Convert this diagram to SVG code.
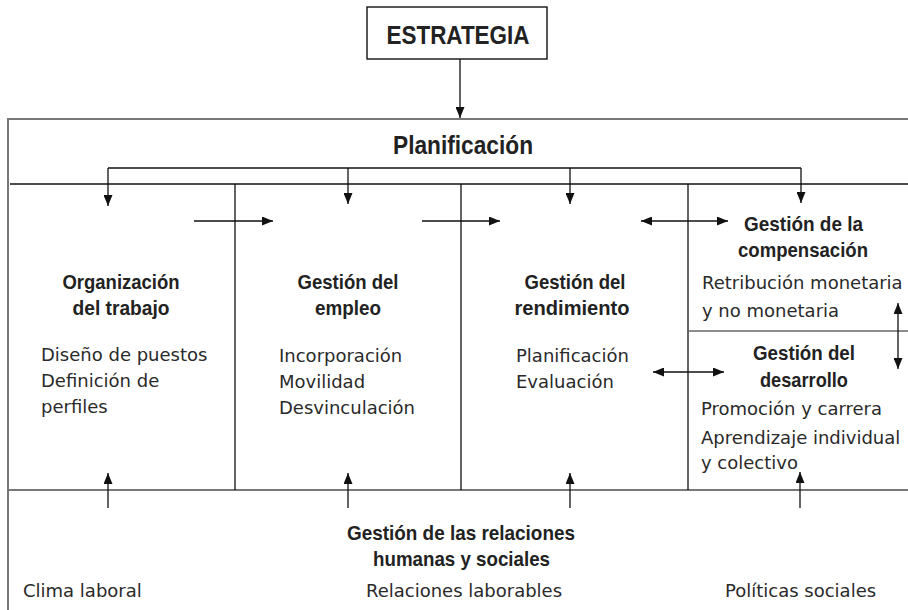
<svg xmlns="http://www.w3.org/2000/svg" width="908" height="610" viewBox="0 0 908 610">
<style>
.frame{stroke:#777;stroke-width:2;fill:none}
.ln{stroke:#111;stroke-width:1.3;fill:none}
.gl{stroke:#666;stroke-width:1.6;fill:none}
.h{font-family:"Liberation Sans",Arial,sans-serif;font-weight:bold;font-size:21px;fill:#222;text-anchor:middle}
.b{font-family:"DejaVu Sans",sans-serif;font-size:18px;fill:#2a2a2a}
.c{stroke:#111;stroke-width:1.3;fill:none}
.ar{marker-end:url(#ah)}
.dar{marker-end:url(#ah);marker-start:url(#ah)}
</style>
<defs>
<marker id="ah" markerUnits="userSpaceOnUse" markerWidth="11" markerHeight="9" refX="11" refY="4.5" orient="auto-start-reverse" viewBox="0 0 11 9">
<path d="M0,0 L11,4.5 L0,9 z" fill="#111"/>
</marker>
</defs>
<rect width="908" height="610" fill="#fff"/>

<g id="frame">
<path class="frame" d="M908,119 H8 V610"/>
<path class="ln" d="M10,184 H908"/>
<path class="frame" d="M8,490 H908"/>
<path class="ln" d="M235,184 V490 M461,184 V490 M688,184 V490"/>
<path class="gl" d="M688,331 H908"/>
</g>

<g id="estrategia">
<rect x="367" y="7" width="180" height="52" fill="#fff" stroke="#111" stroke-width="1.4"/>
<text class="h" x="458" y="44" font-size="26" style="font-size:26px" textLength="143" lengthAdjust="spacingAndGlyphs">ESTRATEGIA</text>
</g>

<g id="planificacion">
<text class="h" x="463" y="154" style="font-size:25px" textLength="140" lengthAdjust="spacingAndGlyphs">Planificación</text>
</g>

<g id="organizacion">
<text class="h" x="121" y="289" textLength="117" lengthAdjust="spacingAndGlyphs">Organización</text>
<text class="h" x="121" y="315" textLength="97" lengthAdjust="spacingAndGlyphs">del trabajo</text>
<text class="b" x="41" y="361">Diseño de puestos</text>
<text class="b" x="41" y="387">Definición de</text>
<text class="b" x="41" y="413">perfiles</text>
</g>

<g id="empleo">
<text class="h" x="348" y="289" textLength="101" lengthAdjust="spacingAndGlyphs">Gestión del</text>
<text class="h" x="348" y="315" textLength="66" lengthAdjust="spacingAndGlyphs">empleo</text>
<text class="b" x="279" y="362">Incorporación</text>
<text class="b" x="279" y="388">Movilidad</text>
<text class="b" x="279" y="414">Desvinculación</text>
</g>

<g id="rendimiento">
<text class="h" x="575" y="289" textLength="101" lengthAdjust="spacingAndGlyphs">Gestión del</text>
<text class="h" x="572" y="315" textLength="115" lengthAdjust="spacingAndGlyphs">rendimiento</text>
<text class="b" x="516" y="362">Planificación</text>
<text class="b" x="516" y="388">Evaluación</text>
</g>

<g id="compensacion">
<text class="h" x="803.5" y="231" textLength="119" lengthAdjust="spacingAndGlyphs">Gestión de la</text>
<text class="h" x="803" y="257" textLength="130" lengthAdjust="spacingAndGlyphs">compensación</text>
<text class="b" x="702" y="289">Retribución monetaria</text>
<text class="b" x="702" y="317">y no monetaria</text>
</g>

<g id="desarrollo">
<text class="h" x="804" y="360" textLength="102" lengthAdjust="spacingAndGlyphs">Gestión del</text>
<text class="h" x="804" y="387" textLength="88" lengthAdjust="spacingAndGlyphs">desarrollo</text>
<text class="b" x="701" y="415">Promoción y carrera</text>
<text class="b" x="701" y="444">Aprendizaje individual</text>
<text class="b" x="701" y="469">y colectivo</text>
</g>

<g id="relaciones">
<text class="h" x="461" y="540" textLength="228" lengthAdjust="spacingAndGlyphs">Gestión de las relaciones</text>
<text class="h" x="461.5" y="566" textLength="177" lengthAdjust="spacingAndGlyphs">humanas y sociales</text>
<text class="b" x="23" y="597">Clima laboral</text>
<text class="b" x="366" y="597">Relaciones laborables</text>
<text class="b" x="725" y="597">Políticas sociales</text>
</g>

<g id="connectors">
<path class="c ar" d="M460,59 V118"/>
<path class="c" d="M108,168 H801"/>
<path class="c ar" d="M108,168 V206"/>
<path class="c ar" d="M348,168 V204"/>
<path class="c ar" d="M570,168 V204"/>
<path class="c ar" d="M801,168 V203"/>
<path class="c ar" d="M194,221 H273"/>
<path class="c ar" d="M422,221 H500"/>
<path class="c dar" d="M641,221 H728"/>
<path class="c dar" d="M653,372 H724"/>
<path class="c dar" d="M898,303 V369"/>
<path class="c ar" d="M108,508 V473"/>
<path class="c ar" d="M348,508 V473"/>
<path class="c ar" d="M570,508 V473"/>
<path class="c ar" d="M800,508 V472"/>
</g>
</svg>
